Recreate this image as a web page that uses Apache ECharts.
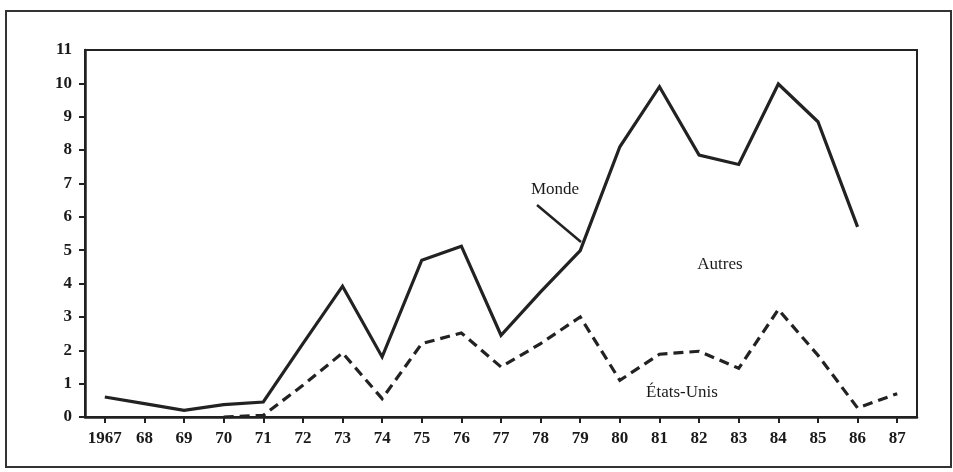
<!DOCTYPE html>
<html>
<head>
<meta charset="utf-8">
<script src="https://cdn.jsdelivr.net/npm/echarts@6/dist/echarts.min.js"></script>
<style>
html,body{margin:0;padding:0;background:#fff;}
#c{width:953px;height:472px;}
</style>
</head>
<body>
<div id="c"></div>
<script>
var years = ['1967','68','69','70','71','72','73','74','75','76','77','78','79','80','81','82','83','84','85','86','87'];
var monde = [0.6, 0.4, 0.2, 0.37, 0.45, 2.2, 3.92, 1.8, 4.7, 5.12, 2.45, 3.75, 4.99, 8.1, 9.9, 7.85, 7.57, 9.98, 8.85, 5.7, null];
var etatsUnis = [null, null, null, 0, 0.05, 0.95, 1.92, 0.55, 2.2, 2.52, 1.5, 2.2, 3.0, 1.1, 1.88, 1.97, 1.46, 3.22, 1.85, 0.27, 0.7];
var yTickValues = [0,1,2,3,4,5,6,7,8,9,10];
var yLabelValues = [0,1,2,3,4,5,6,7,8,9,10,11];

var FONT = '"Liberation Serif", "DejaVu Serif", serif';
var INK = '#222';
var chart = echarts.init(document.getElementById('c'), null, {renderer:'canvas'});
chart.setOption({
  backgroundColor: '#fff',
  animation: false,
  grid: {left: 85, right: 36, top: 50, bottom: 55, show: true, borderColor: INK, borderWidth: 2, backgroundColor: 'transparent'},
  xAxis: {
    type: 'category', data: years, boundaryGap: true,
    axisLine: {show: true, lineStyle: {color: INK, width: 2.5}},
    axisTick: {show: true, alignWithLabel: true, length: 6, lineStyle: {color: INK, width: 2}},
    axisLabel: {interval: 0, margin: 13, color: '#1a1a1a', fontFamily: FONT, fontSize: 17, fontWeight: 'bold'},
    splitLine: {show: false}
  },
  yAxis: {
    type: 'value', min: 0, max: 11, interval: 1,
    axisLine: {show: true, lineStyle: {color: INK, width: 2.5}},
    axisTick: {show: true, length: 6, lineStyle: {color: INK, width: 2}, customValues: yTickValues},
    axisLabel: {margin: 13, color: '#1a1a1a', fontFamily: FONT, fontSize: 17, fontWeight: 'bold', customValues: yLabelValues},
    splitLine: {show: false}
  },
  series: [
    {name: 'Monde', type: 'line', data: monde, symbol: 'none', connectNulls: false,
     lineStyle: {color: '#222', width: 3.2, type: 'solid', join: 'miter'}},
    {name: 'États-Unis', type: 'line', data: etatsUnis, symbol: 'none', connectNulls: false,
     lineStyle: {color: '#222', width: 3.2, type: [10, 6], join: 'miter'}}
  ],
  graphic: [
    {type: 'rect', shape: {x: 6, y: 11, width: 945, height: 456}, style: {fill: 'none', stroke: '#333', lineWidth: 2}, silent: true},
    {type: 'text', x: 555, y: 190, style: {text: 'Monde', font: '17px ' + FONT, fill: '#1a1a1a', textAlign: 'center', textVerticalAlign: 'middle'}},
    {type: 'line', shape: {x1: 537, y1: 205, x2: 581, y2: 242}, style: {stroke: '#222', lineWidth: 2.5}},
    {type: 'text', x: 720, y: 265, style: {text: 'Autres', font: '17px ' + FONT, fill: '#1a1a1a', textAlign: 'center', textVerticalAlign: 'middle'}},
    {type: 'text', x: 682, y: 393, style: {text: 'États-Unis', font: '17px ' + FONT, fill: '#1a1a1a', textAlign: 'center', textVerticalAlign: 'middle'}}
  ]
});
</script>
</body>
</html>
